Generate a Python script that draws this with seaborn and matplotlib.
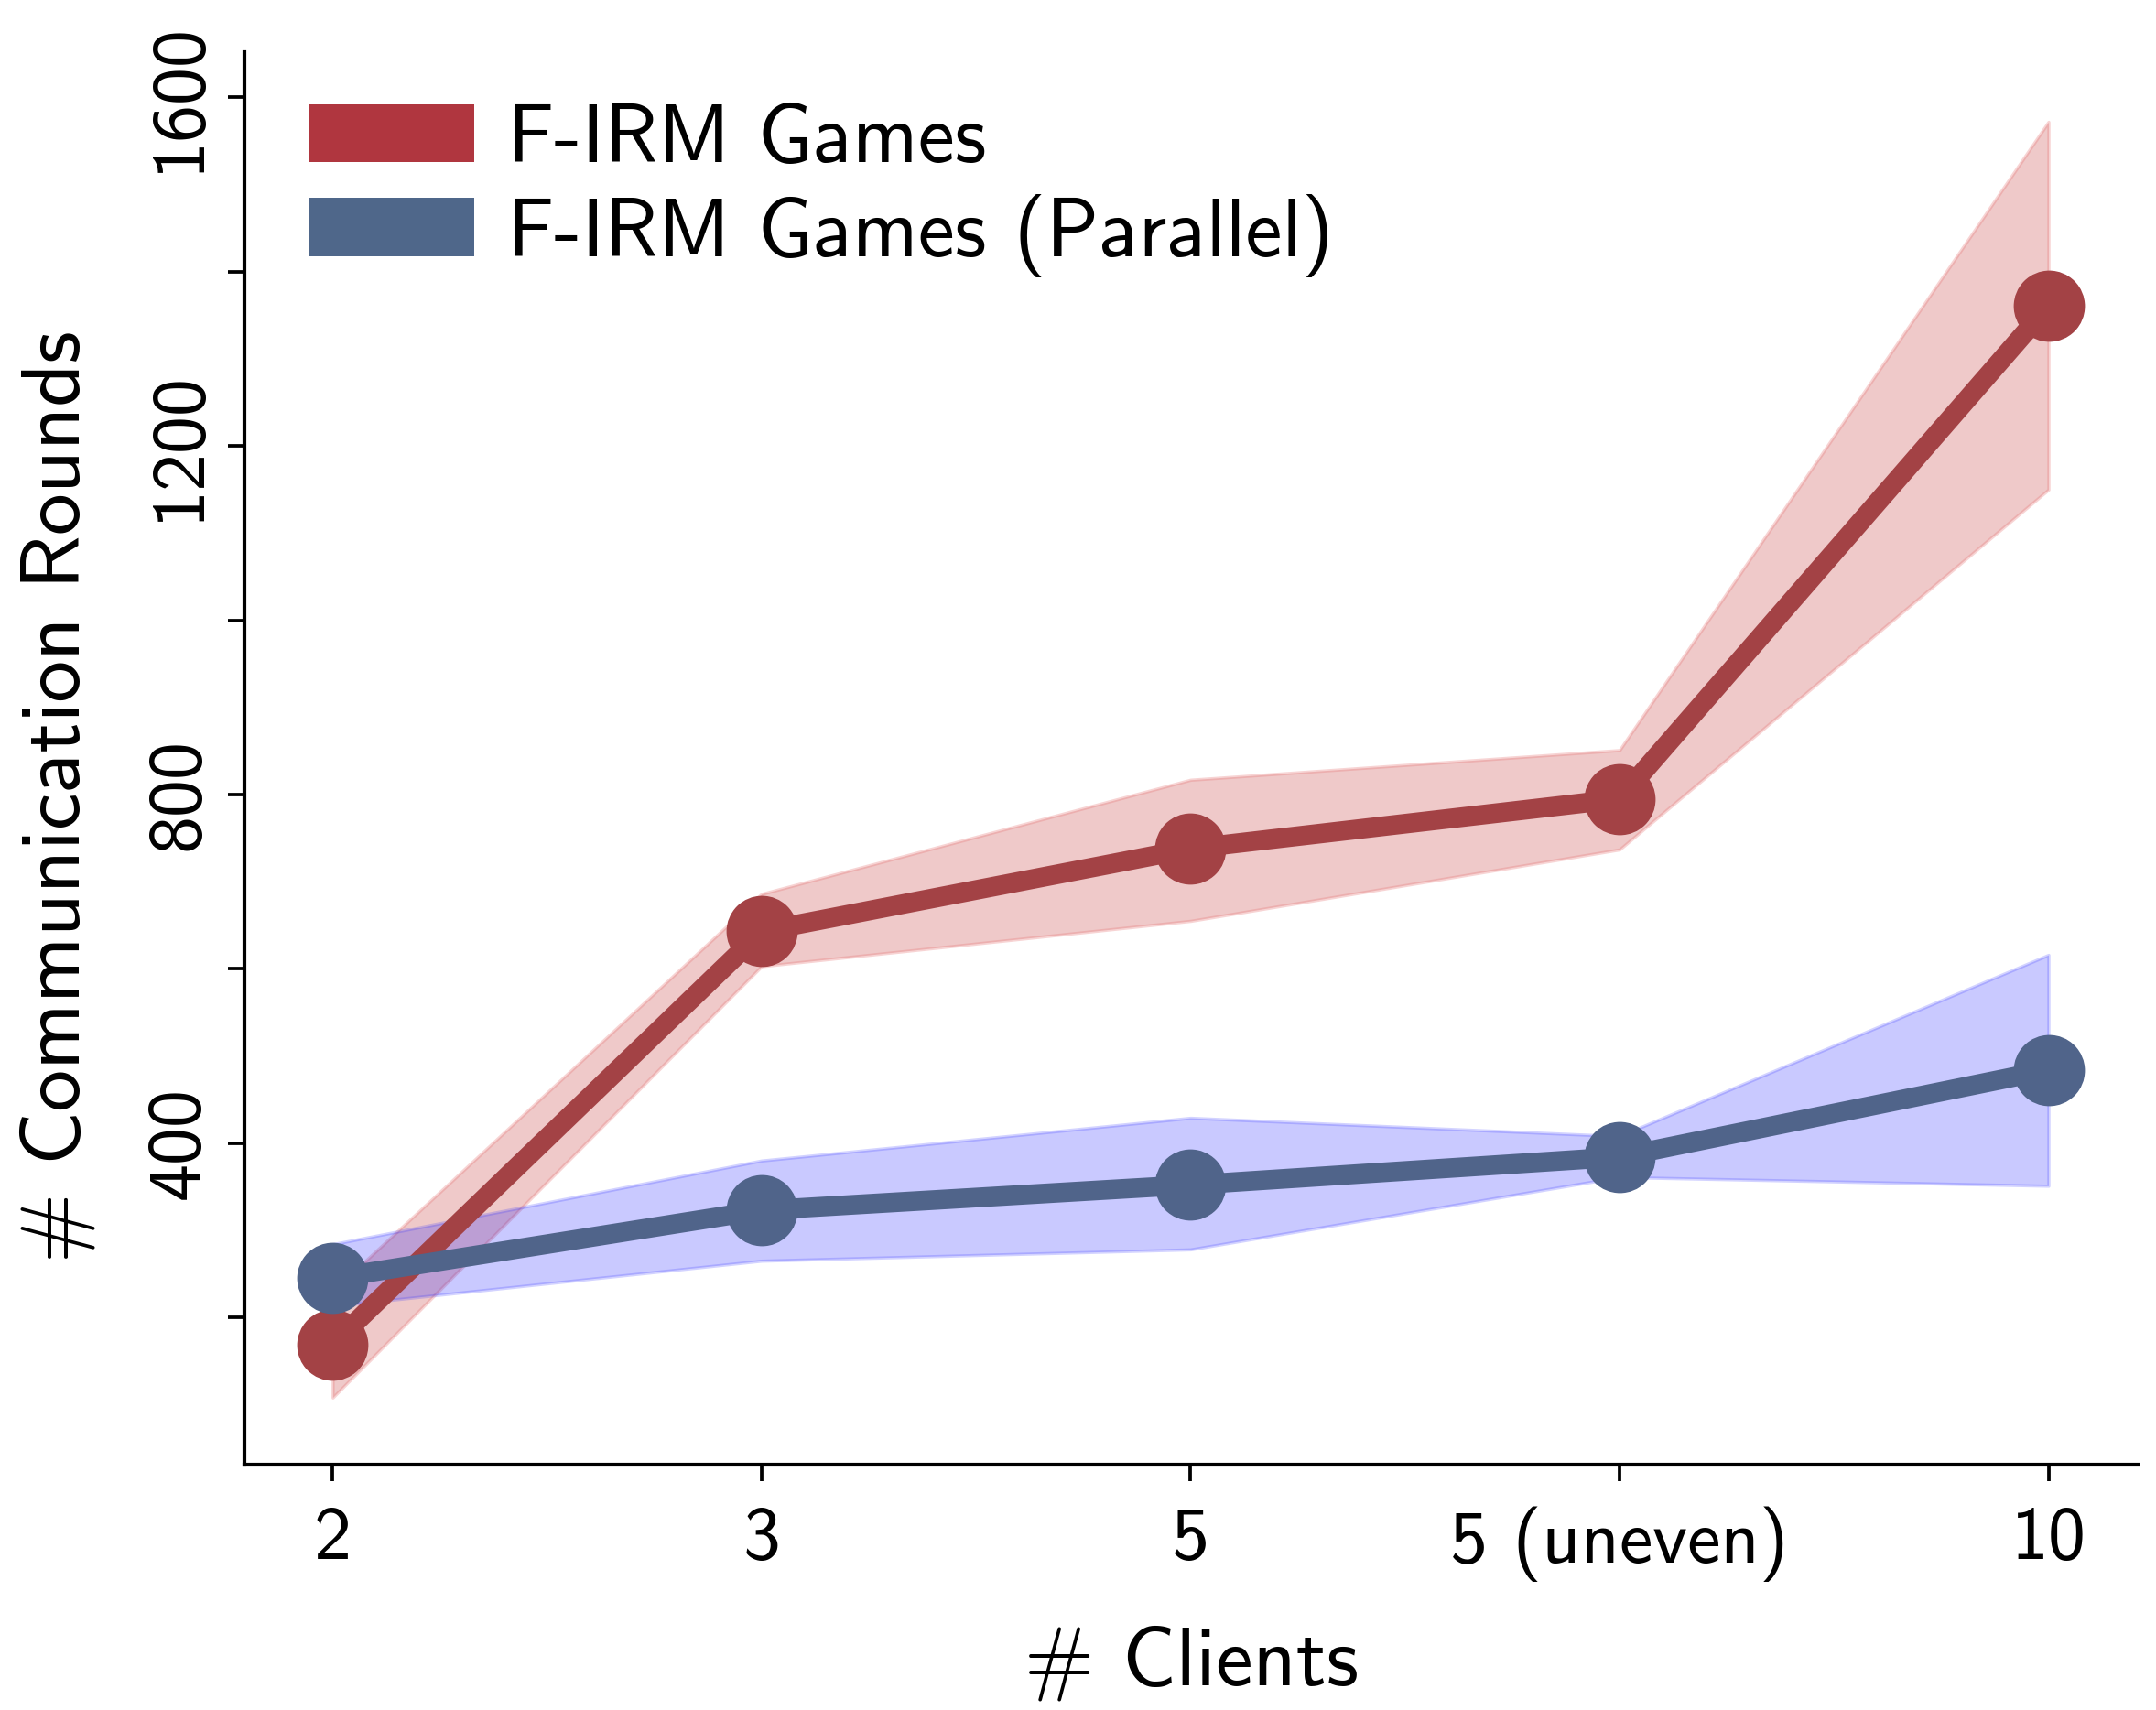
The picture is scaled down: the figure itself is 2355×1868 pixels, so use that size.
import numpy as np
import pandas as pd
import matplotlib
matplotlib.use("Agg")
import matplotlib.pyplot as plt
import seaborn as sns
from matplotlib.patches import Patch

# dados
clients = ["2", "3", "5", "5 (uneven)", "10"]
games_mean = [169, 643, 738, 795, 1361]
games_low = [108, 603, 655, 737, 1150]
games_high = [230, 686, 817, 851, 1572]
parallel_mean = [245, 323, 352, 384, 484]
parallel_low = [213, 265, 278, 361, 351]
parallel_high = [284, 380, 429, 408, 616]
series_names = ["F-IRM Games", "F-IRM Games (Parallel)"]


def plot_rounds():
    sns.set_theme(style="white")
    plt.rcParams["font.family"] = ["cmss10", "DejaVu Sans"]
    plt.rcParams["axes.formatter.use_mathtext"] = True
    plt.rcParams["text.color"] = "black"
    plt.rcParams["axes.labelcolor"] = "black"

    pos = np.arange(len(clients))
    df = pd.DataFrame({
        "pos": np.concatenate([pos, pos]),
        "rounds": games_mean + parallel_mean,
        "method": [series_names[0]] * len(clients) + [series_names[1]] * len(clients),
    })

    line_colors = {series_names[0]: "#A34245", series_names[1]: "#50648A"}

    fig = plt.figure(figsize=(23.55, 18.68), dpi=100)
    ax = fig.add_axes([0.1135, 0.1435, 0.878, 0.826])

    ax.fill_between(pos, games_low, games_high, facecolor=(0.80, 0.31, 0.31),
                    edgecolor=(0.90, 0.45, 0.45), alpha=0.3, linewidth=2.5, zorder=1)
    ax.fill_between(pos, parallel_low, parallel_high, facecolor=(0.0, 0.0, 1.0),
                    edgecolor=(0.2, 0.2, 1.0), alpha=0.21, linewidth=2.5, zorder=1)

    sns.lineplot(data=df, x="pos", y="rounds", hue="method", palette=line_colors,
                 marker="o", markersize=56, markeredgewidth=0, linewidth=15.5,
                 legend=False, ax=ax, zorder=3)

    ax.set_xlim(-0.205, 4.208)
    ax.set_ylim(31, 1652)

    ax.set_xticks(pos)
    ax.set_xticklabels(clients)
    yt = list(range(200, 1601, 200))
    ax.set_yticks(yt)
    ax.set_yticklabels([str(v) if v % 400 == 0 else "" for v in yt],
                       rotation=90, va="center")

    ax.tick_params(axis="both", which="major", direction="out", length=13, width=2.7,
                   color="black", labelsize=59, labelcolor="black",
                   bottom=True, left=True)
    ax.tick_params(axis="x", pad=20)
    ax.tick_params(axis="y", pad=12)

    for side in ["top", "right"]:
        ax.spines[side].set_visible(False)
    for side in ["left", "bottom"]:
        ax.spines[side].set_color("black")
        ax.spines[side].set_linewidth(3)

    ax.set_xlabel("# Clients", fontsize=66, labelpad=34, color="black")
    ax.set_ylabel("# Communication Rounds", fontsize=66, labelpad=40, color="black")
    ax.yaxis.label.set_y(0.473)

    handles = [Patch(facecolor="#B0363F", edgecolor="none"),
               Patch(facecolor="#4F678A", edgecolor="none")]
    ax.legend(handles, series_names, loc="upper left", bbox_to_anchor=(0.034, 0.963),
              frameon=False, fontsize=65, handlelength=2.0, handleheight=0.7,
              handletextpad=0.4, labelspacing=0.18, borderpad=0, borderaxespad=0,
              labelcolor="black")

    fig.savefig("out.png", dpi=100)
    plt.close(fig)


if __name__ == "__main__":
    plot_rounds()
